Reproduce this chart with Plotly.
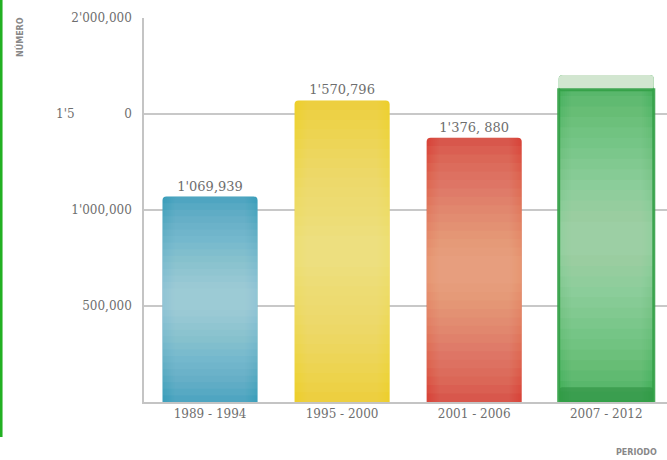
import plotly.graph_objects as go

periods = ["1989 - 1994", "1995 - 2000", "2001 - 2006", "2007 - 2012"]
values = [1069939, 1570796, 1376880, 1703000]
value_labels = ["1'069,939", "1'570,796", "1'376, 880", ""]
dark_colors = ["#3d9fbb", "#edcf2c", "#d8453a", "#3fae55"]
glow_colors = ["rgba(255,255,255,0.045)", "rgba(255,250,215,0.045)",
               "rgba(255,228,185,0.05)", "rgba(255,255,255,0.045)"]
y_tick_vals = [500000, 1000000, 1500000, 2000000]
y_tick_text = ["500,000", "1'000,000", "1'5" + "\u00a0" * 13 + "0", "2'000,000"]

FONT = "DejaVu Serif"
GRAY = "#6e6e6e"
W = 0.72

fig = go.Figure()

# base bars
fig.add_trace(go.Bar(
    x=periods, y=values, width=W,
    marker=dict(color=dark_colors, line=dict(width=0)),
    text=value_labels, textposition="outside", cliponaxis=False,
    textfont=dict(family=FONT, size=13, color=GRAY),
    hoverinfo="skip", showlegend=False,
))

# vertical highlight (lighter in the middle)
steps = 14
for k in range(1, steps + 1):
    f = 0.032 * k
    fig.add_trace(go.Bar(
        x=periods,
        y=[v * (1 - 2 * f) for v in values],
        base=[v * f for v in values],
        width=W,
        marker=dict(color=glow_colors, line=dict(width=0), cornerradius=0),
        hoverinfo="skip", showlegend=False,
    ))

# horizontal shading: lighter centre column
for k in range(1, 7):
    fig.add_trace(go.Bar(
        x=periods, y=values, width=W - 0.03 * k,
        marker=dict(color="rgba(255,255,255,0.02)", line=dict(width=0)),
        hoverinfo="skip", showlegend=False,
    ))

# last bar: bevelled top cap and darker bottom strip
last = periods[-1:]
vlast = values[-1]
fig.add_trace(go.Bar(
    x=last, y=[vlast * 0.045], base=[vlast * 0.955], width=W,
    marker=dict(color="#d2e6d0", line=dict(width=0)),
    hoverinfo="skip", showlegend=False,
))
fig.add_trace(go.Bar(
    x=last, y=[vlast * 0.045], base=[0], width=W,
    marker=dict(color="rgba(40,140,60,0.55)", line=dict(width=0)),
    hoverinfo="skip", showlegend=False,
))
fig.add_trace(go.Bar(
    x=last, y=[vlast * 0.955], width=W,
    marker=dict(color="rgba(0,0,0,0)", line=dict(width=3, color="rgba(50,160,70,0.9)")),
    hoverinfo="skip", showlegend=False,
))

fig.update_layout(
    width=667, height=460,
    margin=dict(l=144, r=0, t=18, b=58),
    paper_bgcolor="white", plot_bgcolor="white",
    barmode="overlay", barcornerradius=4,
    font=dict(family=FONT, color=GRAY),
    xaxis=dict(
        range=[-0.5, 3.46], showgrid=False, ticks="",
        showline=True, linecolor="#c4c4c4", linewidth=1.5,
        tickfont=dict(family=FONT, size=12, color=GRAY),
        fixedrange=True,
    ),
    yaxis=dict(
        range=[0, 2000000], tickvals=y_tick_vals, ticktext=y_tick_text,
        showgrid=True, gridcolor="#c8c8c8", gridwidth=1.5,
        showline=True, linecolor="#c4c4c4", linewidth=1.5,
        zeroline=False, ticks="", ticklabelstandoff=8,
        tickfont=dict(family=FONT, size=12, color=GRAY),
        fixedrange=True,
    ),
    annotations=[
        dict(text="<b>NÚMERO</b>", textangle=-90, xref="paper", yref="paper",
             x=(20 - 144) / 523, y=(402 - 37) / 384, xanchor="center", yanchor="middle",
             showarrow=False, font=dict(family="DejaVu Sans", size=8, color="#888888")),
        dict(text="<b>PERIODO</b>", xref="paper", yref="paper",
             x=(614 - 144) / 523, y=-(452 - 402) / 384, xanchor="left", yanchor="middle",
             showarrow=False, font=dict(family="DejaVu Sans", size=8, color="#888888")),
    ],
    shapes=[
        dict(type="line", xref="paper", yref="paper",
             x0=-144 / 523 + 0.002, x1=-144 / 523 + 0.002, y0=(402 - 437) / 384, y1=(402 + 18) / 384,
             line=dict(color="#22b022", width=3)),
    ],
)

fig.write_html("out.html")
